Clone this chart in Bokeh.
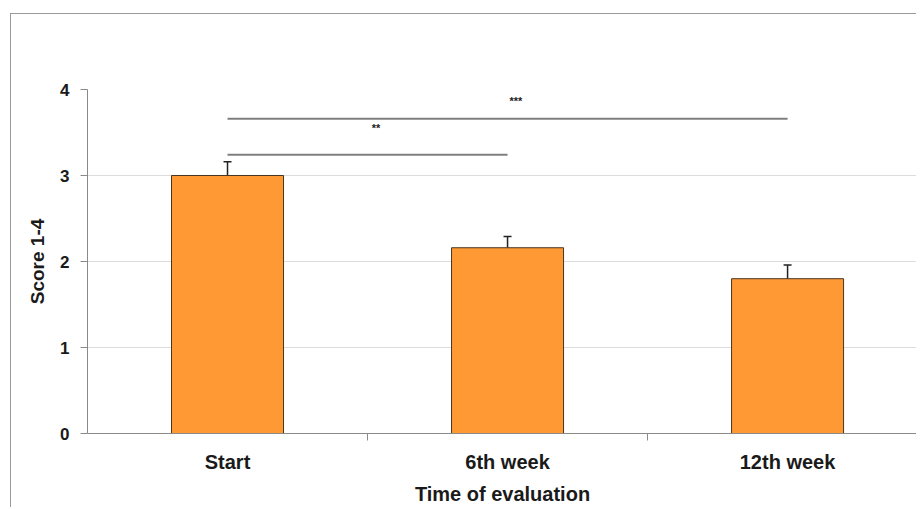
from bokeh.plotting import figure
from bokeh.models import Range1d, FixedTicker, Whisker, ColumnDataSource, TeeHead
from bokeh.core.properties import value
from bokeh.embed import file_html
from bokeh.resources import INLINE

categories = ["Start", "6th week", "12th week"]
means = [3.0, 2.16, 1.80]
errors = [0.16, 0.13, 0.16]
y_ticks = [0, 1, 2, 3, 4]
sig_from = [0, 0]
sig_to = [1, 2]
sig_y = [3.24, 3.66]
sig_text = ["**", "***"]
sig_text_y = [3.55, 3.87]

x = [i + 0.5 for i in range(len(categories))]
upper = [m + e for m, e in zip(means, errors)]

FONT = "Liberation Sans"
NARROW = "'Liberation Sans Narrow', 'Liberation Sans', sans-serif"

p = figure(width=906, height=494, output_backend="svg", toolbar_location=None,
           x_range=Range1d(0, 2.964), y_range=Range1d(0, 4),
           min_border_left=76, min_border_right=0, min_border_top=75, min_border_bottom=75)
p.styles = {"margin-left": "10px", "margin-top": "13px",
            "border-left": "1px solid #9a9a9a", "border-top": "1px solid #9a9a9a"}
p.outline_line_color = None
p.background_fill_color = "white"
p.border_fill_color = "white"

# grid
p.xgrid.visible = False
p.ygrid.ticker = FixedTicker(ticks=y_ticks)
p.ygrid.grid_line_color = "#dcdcdc"
p.ygrid.grid_line_width = 1

# bars
src = ColumnDataSource(dict(x=x, top=means, upper=upper))
p.vbar(x="x", top="top", bottom=0, width=0.4, source=src,
       fill_color="#FF9933", line_color="#4a3520", line_width=1)

# error bars (upward only)
w = Whisker(base="x", lower="top", upper="upper", source=src, dimension="height",
            line_color="#222222", line_width=1.5,
            upper_head=TeeHead(size=8, line_color="#222222", line_width=1.5),
            lower_head=None)
p.add_layout(w)

# significance lines
sx0 = [x[i] for i in sig_from]
sx1 = [x[j] for j in sig_to]
p.segment(x0=sx0, y0=sig_y, x1=sx1, y1=sig_y, line_color="#7f7f7f", line_width=2)
smid = [(a + b) / 2 + 0.03 for a, b in zip(sx0, sx1)]
p.text(x=smid, y=sig_text_y, text=sig_text, text_align="center", text_baseline="middle",
       text_font=value(FONT), text_font_size="11px", text_font_style="bold",
       text_color="#222222")

# y axis
ya = p.yaxis[0]
ya.ticker = FixedTicker(ticks=y_ticks)
ya.axis_line_color = "#8a8a8a"
ya.major_tick_line_color = "#8a8a8a"
ya.major_tick_in = 0
ya.major_tick_out = 7
ya.minor_tick_line_color = None
ya.major_label_text_font = FONT
ya.major_label_text_font_style = "bold"
ya.major_label_text_font_size = "17px"
ya.major_label_text_color = "#1a1a1a"
ya.major_label_standoff = 11
ya.axis_label = "Score 1-4"
ya.axis_label_text_font = FONT
ya.axis_label_text_font_style = "bold"
ya.axis_label_text_font_size = "19px"
ya.axis_label_text_color = "#1a1a1a"
ya.axis_label_standoff = 9

# x axis
xa = p.xaxis[0]
xa.ticker = FixedTicker(ticks=x, minor_ticks=[1, 2])
xa.major_label_overrides = {xv: c for xv, c in zip(x, categories)}
xa.axis_line_color = "#8a8a8a"
xa.major_tick_line_color = None
xa.major_tick_out = 0
xa.major_tick_in = 0
xa.minor_tick_line_color = "#8a8a8a"
xa.minor_tick_in = 0
xa.minor_tick_out = 7
xa.major_label_text_font = NARROW
xa.major_label_text_font_style = "bold"
xa.major_label_text_font_size = "20px"
xa.major_label_text_color = "#1a1a1a"
xa.major_label_standoff = 10
xa.axis_label = "Time of evaluation"
xa.axis_label_text_font = NARROW
xa.axis_label_text_font_style = "bold"
xa.axis_label_text_font_size = "20px"
xa.axis_label_text_color = "#1a1a1a"
xa.axis_label_standoff = 7

open("out.html", "w").write(file_html(p, INLINE))
